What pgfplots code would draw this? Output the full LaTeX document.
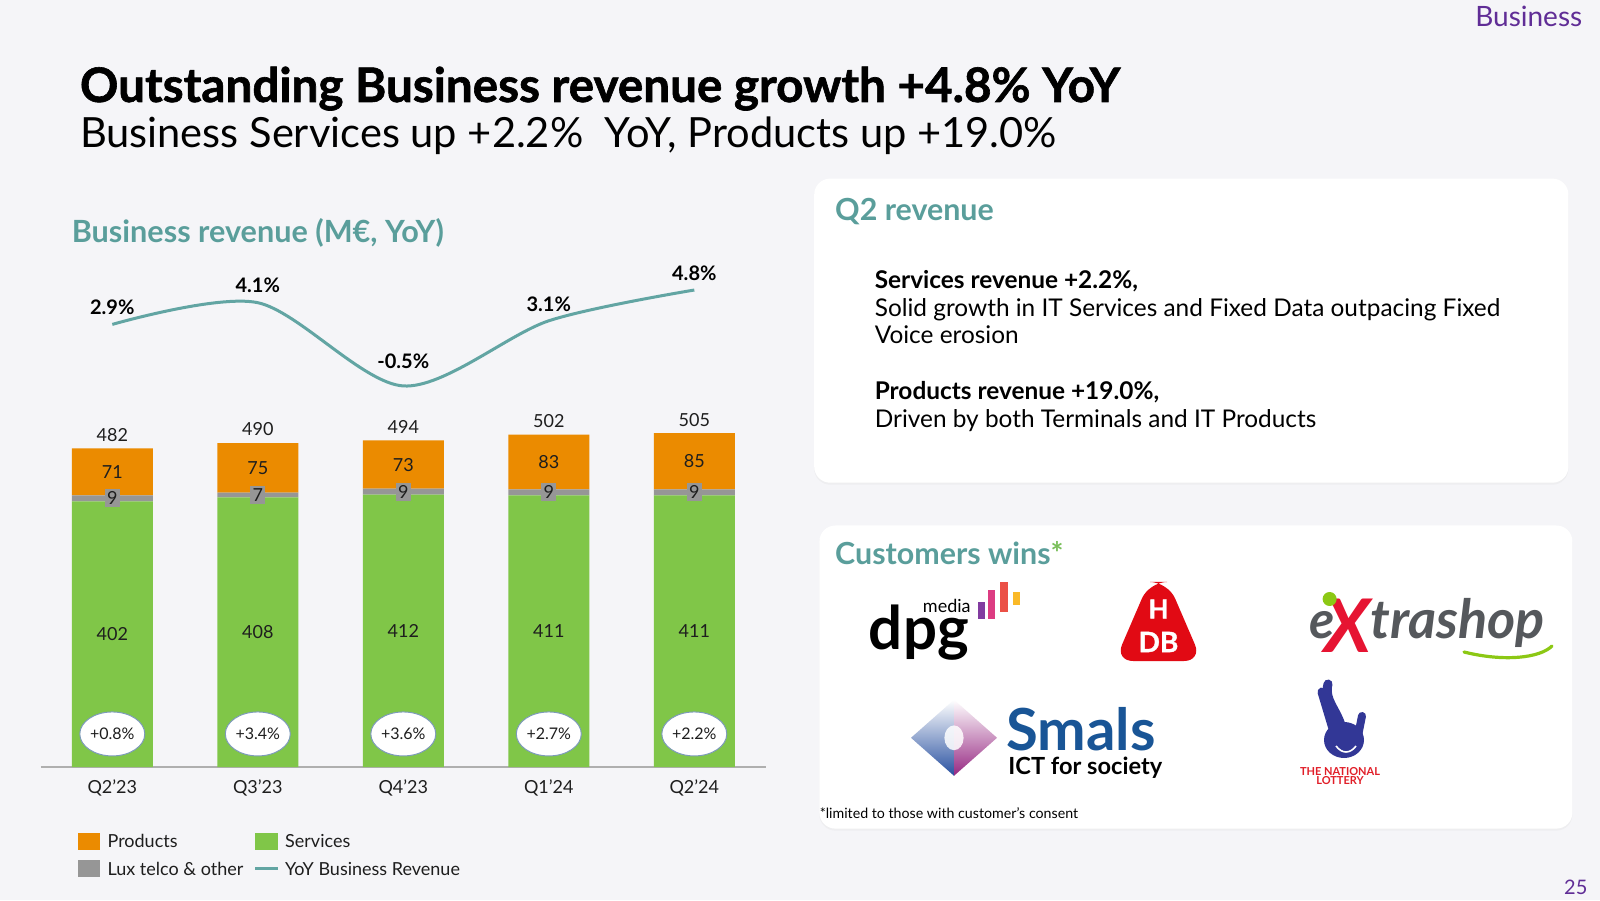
\documentclass[border=0pt]{standalone}
\usepackage{fontspec}
\setmainfont{Lato}
\newfontfamily\heavyfont{Lato}[BoldFeatures={FakeBold=1.3}]
\usepackage{pgfplots}
\pgfplotsset{compat=1.18}
\usetikzlibrary{shadows,shapes.geometric}

\definecolor{bgcol}{RGB}{245,245,248}
\definecolor{prodorange}{RGB}{235,139,0}
\definecolor{servgreen}{RGB}{128,198,72}
\definecolor{luxgray}{RGB}{150,150,150}
\definecolor{yoyteal}{RGB}{98,165,163}
\definecolor{headteal}{RGB}{90,158,155}
\definecolor{pxpurple}{RGB}{96,45,150}
\definecolor{axisgray}{RGB}{175,175,175}
\definecolor{badgeline}{RGB}{125,155,185}
\definecolor{textgray}{RGB}{30,30,30}
\definecolor{dpgpurple}{RGB}{130,60,160}
\definecolor{dpgpink}{RGB}{220,60,130}
\definecolor{dpgred}{RGB}{235,80,70}
\definecolor{dpgyellow}{RGB}{250,185,40}
\definecolor{hdbred}{RGB}{225,10,20}
\definecolor{xgray}{RGB}{85,88,92}
\definecolor{xred}{RGB}{230,20,50}
\definecolor{xgreen}{RGB}{140,200,20}
\definecolor{smblue}{RGB}{25,85,150}
\definecolor{smdblue}{RGB}{40,80,160}
\definecolor{smpurple}{RGB}{150,40,130}
\definecolor{lotblue}{RGB}{50,55,150}
\definecolor{lotred}{RGB}{225,30,40}

\begin{document}
\begin{tikzpicture}[x=1pt,y=1pt]
\useasboundingbox (0,0) rectangle (800,450);
\fill[bgcol] (0,0) rectangle (800,450);

% header
\node[anchor=base east, inner sep=0, text=pxpurple] at (791.3,436.7) {\fontsize{14}{16}\selectfont Business};
\node[anchor=base east, inner sep=0, text=pxpurple] at (793.9,3) {\fontsize{10}{12}\selectfont 25};
\node[anchor=base west, inner sep=0] at (39.8,399) {\fontsize{23.8}{26}\selectfont\heavyfont\bfseries Outstanding Business revenue growth +4.8\% YoY};
\node[anchor=base west, inner sep=0] at (39.8,376) {\fontsize{20.8}{24}\selectfont Business Services up +2.2\%\ \ YoY, Products up +19.0\%};
\node[anchor=base west, inner sep=0, text=headteal] at (35.7,328.6) {\fontsize{15.3}{17}\selectfont\bfseries Business revenue (M€, YoY)};

% bars
\begin{axis}[
  at={(20.5pt,66.5pt)}, anchor=south west,
  scale only axis, width=362.3pt, height=198.3pt,
  xmin=-0.49, xmax=4.49, ymin=0, ymax=600,
  ybar stacked, bar width=40.5pt,
  axis y line=none, axis x line*=bottom,
  x axis line style={axisgray, line width=0.8pt, -},
  xtick={0,1,2,3,4},
  xticklabels={Q2’23,Q3’23,Q4’23,Q1’24,Q2’24},
  major tick length=0pt,
  xticklabel style={font=\fontsize{9}{11}\selectfont, text=textgray, yshift=-3pt},
]
\addplot[fill=servgreen, draw=none] coordinates {(0,402) (1,408) (2,412) (3,411) (4,411)};
\addplot[fill=luxgray, draw=none] coordinates {(0,9) (1,7) (2,9) (3,9) (4,9)};
\addplot[fill=prodorange, draw=none] coordinates {(0,71) (1,75) (2,73) (3,83) (4,85)};
\end{axis}

% value labels
\begin{axis}[
  at={(20.5pt,66.5pt)}, anchor=south west,
  scale only axis, width=362.3pt, height=198.3pt,
  xmin=-0.49, xmax=4.49, ymin=0, ymax=600,
  hide axis, clip=false,
  nodes near coords, point meta=explicit symbolic,
  every node near coord/.append style={anchor=center, text=textgray, font=\fontsize{9}{11}\selectfont},
]
\addplot[draw=none] coordinates {(0,201)[402] (1,204)[408] (2,206)[412] (3,205.5)[411] (4,205.5)[411]};
\addplot[draw=none, every node near coord/.append style={fill=luxgray, inner sep=1.2pt, minimum width=7.5pt, minimum height=9pt}]
  coordinates {(0,406.5)[9] (1,411.5)[7] (2,416.5)[9] (3,415.5)[9] (4,415.5)[9]};
\addplot[draw=none] coordinates {(0,446.5)[71] (1,452.5)[75] (2,457.5)[73] (3,461.5)[83] (4,462.5)[85]};
\addplot[draw=none, every node near coord/.append style={yshift=6.8pt}]
  coordinates {(0,482)[482] (1,490)[490] (2,494)[494] (3,503)[502] (4,505)[505]};
\addplot[draw=none, every node near coord/.append style={ellipse, draw=badgeline, line width=0.5pt, fill=white, minimum width=32.5pt, minimum height=22pt, inner sep=0pt, font=\fontsize{8}{10}\selectfont}]
  coordinates {(0,50)[+0.8\%] (1,50)[+3.4\%] (2,50)[+3.6\%] (3,50)[+2.7\%] (4,50)[+2.2\%]};
\end{axis}

% YoY line
\begin{axis}[
  at={(20.5pt,252.5pt)}, anchor=south west,
  scale only axis, width=362.3pt, height=63.35pt,
  xmin=-0.49, xmax=4.49, ymin=-1, ymax=6,
  hide axis, clip=false,
]
\addplot[yoyteal, line width=1.5pt, smooth,
  nodes near coords, point meta=explicit symbolic,
  visualization depends on={\thisrow{dy} \as \labdy},
  every node near coord/.append style={anchor=center, yshift=\labdy pt, text=black, font=\fontsize{10}{12}\selectfont\bfseries}]
table[x=x, y=y, meta=lab] {
x y lab dy
0 2.9 2.9\% 8.5
1 4.1 4.1\% 8.5
2 -0.5 -0.5\% 12.5
3 3.1 3.1\% 8.5
4 4.8 4.8\% 8.5
};
\end{axis}

% legend
\begin{scope}[font=\fontsize{9}{11}\selectfont]
\fill[prodorange] (38.8,25) rectangle (50,33.65);
\node[anchor=west, inner sep=0, text=textgray] at (53.6,29.3) {Products};
\fill[servgreen] (127.6,25) rectangle (138.8,33.65);
\node[anchor=west, inner sep=0, text=textgray] at (142.4,29.3) {Services};
\fill[luxgray] (38.8,11.4) rectangle (50,20);
\node[anchor=west, inner sep=0, text=textgray] at (53.6,15.7) {Lux telco \& other};
\draw[yoyteal, line width=1.5pt] (127.6,15.7) -- (138.8,15.7);
\node[anchor=west, inner sep=0, text=textgray] at (142.4,15.7) {YoY Business Revenue};
\end{scope}

% Q2 revenue panel
\fill[white, rounded corners=8pt, drop shadow={shadow xshift=0pt, shadow yshift=-1pt, opacity=0.06}] (407.1,208.65) rectangle (784.2,360.7);
\node[anchor=base west, inner sep=0, text=headteal] at (417.4,339.8) {\fontsize{15.2}{17}\selectfont\bfseries Q2 revenue};
\begin{scope}[every node/.style={anchor=base west, inner sep=0, text=black, font=\fontsize{12.2}{14}\selectfont}]
\node at (437.2,305.6) {\bfseries Services revenue +2.2\%,};
\node at (437.2,291.8) {Solid growth in IT Services and Fixed Data outpacing Fixed};
\node at (437.2,278.1) {Voice erosion};
\node at (437.2,250) {\bfseries Products revenue +19.0\%,};
\node at (437.2,236.2) {Driven by both Terminals and IT Products};
\end{scope}

% Customer wins panel
\fill[white, rounded corners=8pt, drop shadow={shadow xshift=0pt, shadow yshift=-1pt, opacity=0.06}] (409.7,35.7) rectangle (786.2,187.25);
\node[anchor=base west, inner sep=0, text=headteal] at (417.4,167.9) {\fontsize{15.2}{17}\selectfont\bfseries Customers wins\textcolor{servgreen!80!headteal}{*}};
\node[anchor=base west, inner sep=0] at (409.7,40.8) {\fontsize{7.1}{8}\selectfont *limited to those with customer’s consent};

% dpg media
\node[anchor=base west, inner sep=0] (dd) at (434,125) {\fontsize{30}{32}\selectfont\bfseries d};
\node[anchor=base west, inner sep=0] at (dd.base east) {\fontsize{30}{32}\selectfont\bfseries pg};
\node[anchor=base east, inner sep=0] at (485.5,143.5) {\fontsize{9}{10}\selectfont media};
\fill[dpgpurple] (488.8,140.3) rectangle (492.4,149);
\fill[dpgpink] (493.9,140.3) rectangle (497.5,155.1);
\fill[dpgred] (500,144) rectangle (504,159.2);
\fill[dpgyellow] (506.6,147.5) rectangle (510.2,154.1);

% HDB
\fill[hdbred, rounded corners=9pt] (574.5,159) -- (584,159) -- (601,119.5) -- (557.5,119.5) -- cycle;
\node[text=white, inner sep=0] at (579.25,145.5) {\fontsize{13}{13}\selectfont\heavyfont\bfseries H};
\node[text=white, inner sep=0] at (579.25,129) {\fontsize{14}{14}\selectfont\heavyfont\bfseries DB};

% extrashop
\node[anchor=base west, inner sep=0, text=xgray] at (654.5,131) {\fontsize{26}{28}\selectfont\bfseries\itshape e};
\node[anchor=base west, inner sep=0, text=xred] at (662,124) {\fontsize{37}{38}\selectfont\heavyfont\bfseries\itshape X};
\fill[xgreen] (664.8,150.5) circle (3.5);
\node[anchor=base west, inner sep=0, text=xgray] at (685,131) {\fontsize{27}{29}\selectfont\bfseries\itshape trashop};
\draw[xgreen, line width=1.6pt, line cap=round] (732,124) .. controls (752,119) and (770,121) .. (776,127);

% Smals
\shade[top color=white, bottom color=smdblue] (477,100.1) -- (455.5,81.1) -- (477,62.1) -- cycle;
\shade[top color=white, bottom color=smpurple] (477,100.1) -- (498.5,81.1) -- (477,62.1) -- cycle;
\fill[white, opacity=0.85] (477,81.1) ellipse (4.8 and 6.2);
\node[anchor=base west, inner sep=0, text=smblue] at (503,75) {\fontsize{29}{30}\selectfont\bfseries Smals};
\node[anchor=base west, inner sep=0] at (504,62.6) {\fontsize{11.8}{13}\selectfont\bfseries ICT for society};

% National Lottery
\begin{scope}[lotblue]
\fill (672,80) ellipse (10 and 9);
\draw[line width=4.5pt, line cap=round] (667,84) -- (661,104);
\draw[line width=4.5pt, line cap=round] (671,86) .. controls (668,96) and (662,100) .. (664,108);
\draw[line width=4pt, line cap=round] (679,82) -- (681,92);
\end{scope}
\draw[white, line width=0.8pt] (668,77) .. controls (671,73) and (675,73) .. (678,77);
\node[text=lotred, inner sep=0, font=\fontsize{5.5}{5.5}\selectfont\bfseries] at (670,64.3) {THE NATIONAL};
\node[text=lotred, inner sep=0, font=\fontsize{5.5}{5.5}\selectfont\bfseries] at (670,59.5) {LOTTERY};
\end{tikzpicture}
\end{document}
